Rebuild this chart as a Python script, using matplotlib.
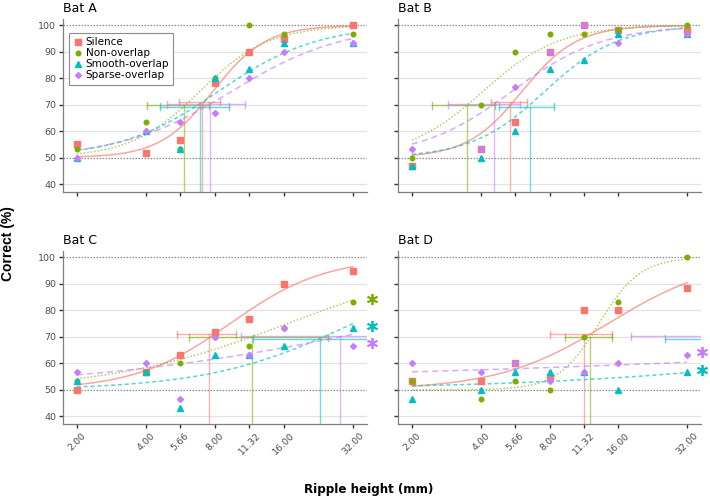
import numpy as np
import matplotlib
matplotlib.use("Agg")
import matplotlib.pyplot as plt
from matplotlib.lines import Line2D
from matplotlib.transforms import blended_transform_factory

# ---------------- data ----------------
ripple_mm = [2.00, 4.00, 5.66, 8.00, 11.32, 16.00, 32.00]
tick_labels = ["2.00", "4.00", "5.66", "8.00", "11.32", "16.00", "32.00"]
conditions = ["Silence", "Non-overlap", "Smooth-overlap", "Sparse-overlap"]
bats = ["Bat A", "Bat B", "Bat C", "Bat D"]

# percent correct per ripple height
bat_a_silence = [55.0, 51.7, 56.7, 78.3, 90.0, 95.0, 100.0]
bat_a_nonoverlap = [53.3, 63.3, 53.3, 80.0, 100.0, 96.7, 96.7]
bat_a_smooth = [50.0, 60.0, 53.3, 80.0, 83.3, 93.3, 93.3]
bat_a_sparse = [50.0, 60.0, 63.3, 66.7, 80.0, 90.0, 93.3]

bat_b_silence = [46.7, 53.3, 63.3, 90.0, 100.0, 98.3, 98.3]
bat_b_nonoverlap = [50.0, 70.0, 90.0, 96.7, 96.7, 98.3, 100.0]
bat_b_smooth = [46.7, 50.0, 60.0, 83.3, 86.7, 96.7, 96.7]
bat_b_sparse = [53.3, 53.3, 76.7, 90.0, 100.0, 93.3, 96.7]

bat_c_silence = [50.0, 56.7, 63.3, 71.7, 76.7, 90.0, 95.0]
bat_c_nonoverlap = [53.3, 56.7, 60.0, 70.0, 66.7, 73.3, 83.3]
bat_c_smooth = [53.3, 56.7, 43.3, 63.3, 63.3, 66.7, 73.3]
bat_c_sparse = [56.7, 60.0, 46.7, 70.0, 63.3, 73.3, 66.7]

bat_d_silence = [53.3, 53.3, 60.0, 55.0, 80.0, 80.0, 88.3]
bat_d_nonoverlap = [53.3, 46.7, 53.3, 50.0, 70.0, 83.3, 100.0]
bat_d_smooth = [46.7, 50.0, 56.7, 56.7, 56.7, 50.0, 56.7]
bat_d_sparse = [60.0, 56.7, 60.0, 53.3, 56.7, 60.0, 63.3]

# psychometric fit parameters (log2 midpoint, spread), order = conditions
fit_mid_a = [2.97, 2.78, 3.05, 3.24]
fit_spread_a = [0.385, 0.50, 0.714, 0.80]
fit_mid_b = [2.60, 2.03, 2.93, 2.45]
fit_spread_b = [0.40, 0.55, 0.53, 0.667]
fit_mid_c = [3.22, 4.05, 5.00, 5.75]
fit_spread_c = [0.69, 1.28, 1.05, 2.30]
fit_mid_d = [3.85, 3.72, 9.80, 15.3]
fit_spread_d = [0.80, 0.30, 2.53, 7.70]

# 70%-correct thresholds (mm) with confidence limits
thr_a = [7.04, 5.84, 6.90, 7.58]
ci_lo_a = [5.59, 4.04, 4.60, 4.96]
ci_hi_a = [8.39, 7.51, 9.18, 10.85]
thr_b = [5.38, 3.48, 6.58, 4.56]
ci_lo_b = [4.42, 2.45, 4.79, 2.86]
ci_hi_b = [6.39, 4.63, 8.35, 5.94]
thr_c = [7.53, 11.64, 22.9, 28.2]
ci_lo_c = [5.46, 6.14, 11.75, 10.35]
ci_hi_c = [9.85, 24.96, 64.0, 64.0]
thr_d = [11.37, 12.07, np.nan, np.nan]
ci_lo_d = [8.00, 9.36, 25.7, 18.2]
ci_hi_d = [15.0, 15.0, 64.0, 64.0]

# significance marks (per condition)
sig_a = [False, False, False, False]
sig_b = [False, False, False, False]
sig_c = [False, True, True, True]
sig_d = [False, False, True, True]

# ---------------- style ----------------
colors = ["#F8766D", "#7CAE00", "#00BFC4", "#C77CFF"]
markers = ["s", "o", "^", "D"]
msizes = [4.2, 3.3, 4.8, 3.0]
linestyles = ["-", (0, (0.9, 1.4)), (0, (2.6, 1.9)), (0, (4.0, 2.6))]
dodge = [1.0, -0.2, -0.7, 0.15]
thr_level = 70

plt.rcParams["font.family"] = ["DejaVu Sans"]

panels = [
    (bats[0], [bat_a_silence, bat_a_nonoverlap, bat_a_smooth, bat_a_sparse], fit_mid_a, fit_spread_a, thr_a, ci_lo_a, ci_hi_a, sig_a),
    (bats[1], [bat_b_silence, bat_b_nonoverlap, bat_b_smooth, bat_b_sparse], fit_mid_b, fit_spread_b, thr_b, ci_lo_b, ci_hi_b, sig_b),
    (bats[2], [bat_c_silence, bat_c_nonoverlap, bat_c_smooth, bat_c_sparse], fit_mid_c, fit_spread_c, thr_c, ci_lo_c, ci_hi_c, sig_c),
    (bats[3], [bat_d_silence, bat_d_nonoverlap, bat_d_smooth, bat_d_sparse], fit_mid_d, fit_spread_d, thr_d, ci_lo_d, ci_hi_d, sig_d),
]

W, H = 710, 498
fig = plt.figure(figsize=(W / 100, H / 100), dpi=100)
fig.patch.set_facecolor("white")


def rect(l, t, r, b):
    return [l / W, 1 - b / H, (r - l) / W, (b - t) / H]


rects = [rect(63, 18.7, 366.8, 191.7), rect(398.3, 18.7, 700.7, 191.7),
         rect(63, 250.7, 366.8, 424), rect(398.3, 250.7, 700.7, 424)]
star_x = [1.02, 1.02, 1.017, 1.003]

YLO, YHI = 37.1, 102.5
xfit = np.geomspace(ripple_mm[0], ripple_mm[-1], 300)

for i, (title, series, mids, spreads, thrs, cilo, cihi, sigs) in enumerate(panels):
    ax = fig.add_axes(rects[i])
    ax.set_xscale("log", base=2)
    ax.set_xlim(2 ** 0.8, 2 ** 5.2)
    ax.set_ylim(YLO, YHI)
    ax.set_facecolor("white")
    for s in ["top", "right"]:
        ax.spines[s].set_visible(False)
    for s in ["left", "bottom"]:
        ax.spines[s].set_color("#7f7f7f")
        ax.spines[s].set_linewidth(0.9)
    yt = [40, 50, 60, 70, 80, 90, 100]
    ax.set_yticks(yt)
    for v in yt:
        if v in (50, 100):
            ax.axhline(v, color="#8c8c8c", lw=0.9, ls=(0, (1.2, 1.2)), zorder=1)
        else:
            ax.axhline(v, color="#e3e3e3", lw=0.9, zorder=0.5)
    ax.set_xticks(ripple_mm)
    ax.xaxis.set_minor_locator(matplotlib.ticker.NullLocator())
    ax.tick_params(axis="both", colors="#333333", length=3, width=1.0, pad=2,
                   labelcolor="#4d4d4d", labelsize=6.8)
    if i >= 2:
        ax.set_xticklabels(tick_labels, rotation=45, ha="center", va="top")
    else:
        ax.set_xticklabels([])
    if i % 2 == 0:
        ax.set_yticklabels([str(v) for v in yt])
    else:
        ax.set_yticklabels([])
    ax.set_title(title, loc="left", fontsize=9, pad=5, color="black")

    trans = blended_transform_factory(ax.transAxes, ax.transData)
    for c in range(4):
        col = colors[c]
        yb = thr_level + dodge[c]
        # threshold vertical line
        if not np.isnan(thrs[c]):
            ax.plot([thrs[c], thrs[c]], [YLO, yb], color=col, lw=1.0, alpha=0.55, zorder=2)
        # confidence interval with caps
        ax.plot([cilo[c], cihi[c]], [yb, yb], color=col, lw=1.0, alpha=0.6, zorder=2)
        for xe in (cilo[c], cihi[c]):
            ax.plot([xe, xe], [yb - 1.3, yb + 1.3], color=col, lw=1.0, alpha=0.6, zorder=2)
        # fitted curve
        yfit = 50 + 50 / (1 + np.exp(-(np.log2(xfit) - mids[c]) / spreads[c]))
        ax.plot(xfit, yfit, color=col, lw=1.1, ls=linestyles[c], alpha=0.65, zorder=3)
    for c in range(4):
        ax.plot(ripple_mm, series[c], ls="none", marker=markers[c], ms=msizes[c],
                color=colors[c], mec=colors[c], zorder=4 + c)
        if sigs[c]:
            ax.plot([star_x[i]], [series[c][-1] + 0.8], ls="none", marker=(6, 2, 0),
                    ms=8, mew=1.3, color=colors[c], transform=trans, clip_on=False, zorder=10)

    if i == 0:
        handles = [Line2D([], [], ls="none", marker=markers[c], ms=msizes[c],
                          color=colors[c]) for c in range(4)]
        leg = ax.legend(handles, conditions, loc="upper left",
                        bbox_to_anchor=(0.0198, 0.917), borderaxespad=0,
                        fontsize=7.5, handlelength=1.0, handletextpad=0.2,
                        borderpad=0.4, labelspacing=0.1, fancybox=False,
                        framealpha=1, edgecolor="#8c8c8c")
        leg.get_frame().set_linewidth(0.8)
        leg.set_zorder(20)

fig.text(8.3 / W, 1 - 244 / H, "Correct (%)", rotation=90, ha="center", va="center",
         fontsize=10, fontweight="bold", family=["Liberation Sans", "DejaVu Sans"])
fig.text(368.7 / W, 1 - 489 / H, "Ripple height (mm)", ha="center", va="center",
         fontsize=8.6, fontweight="bold")

fig.savefig("out.png", dpi=100, facecolor="white")
